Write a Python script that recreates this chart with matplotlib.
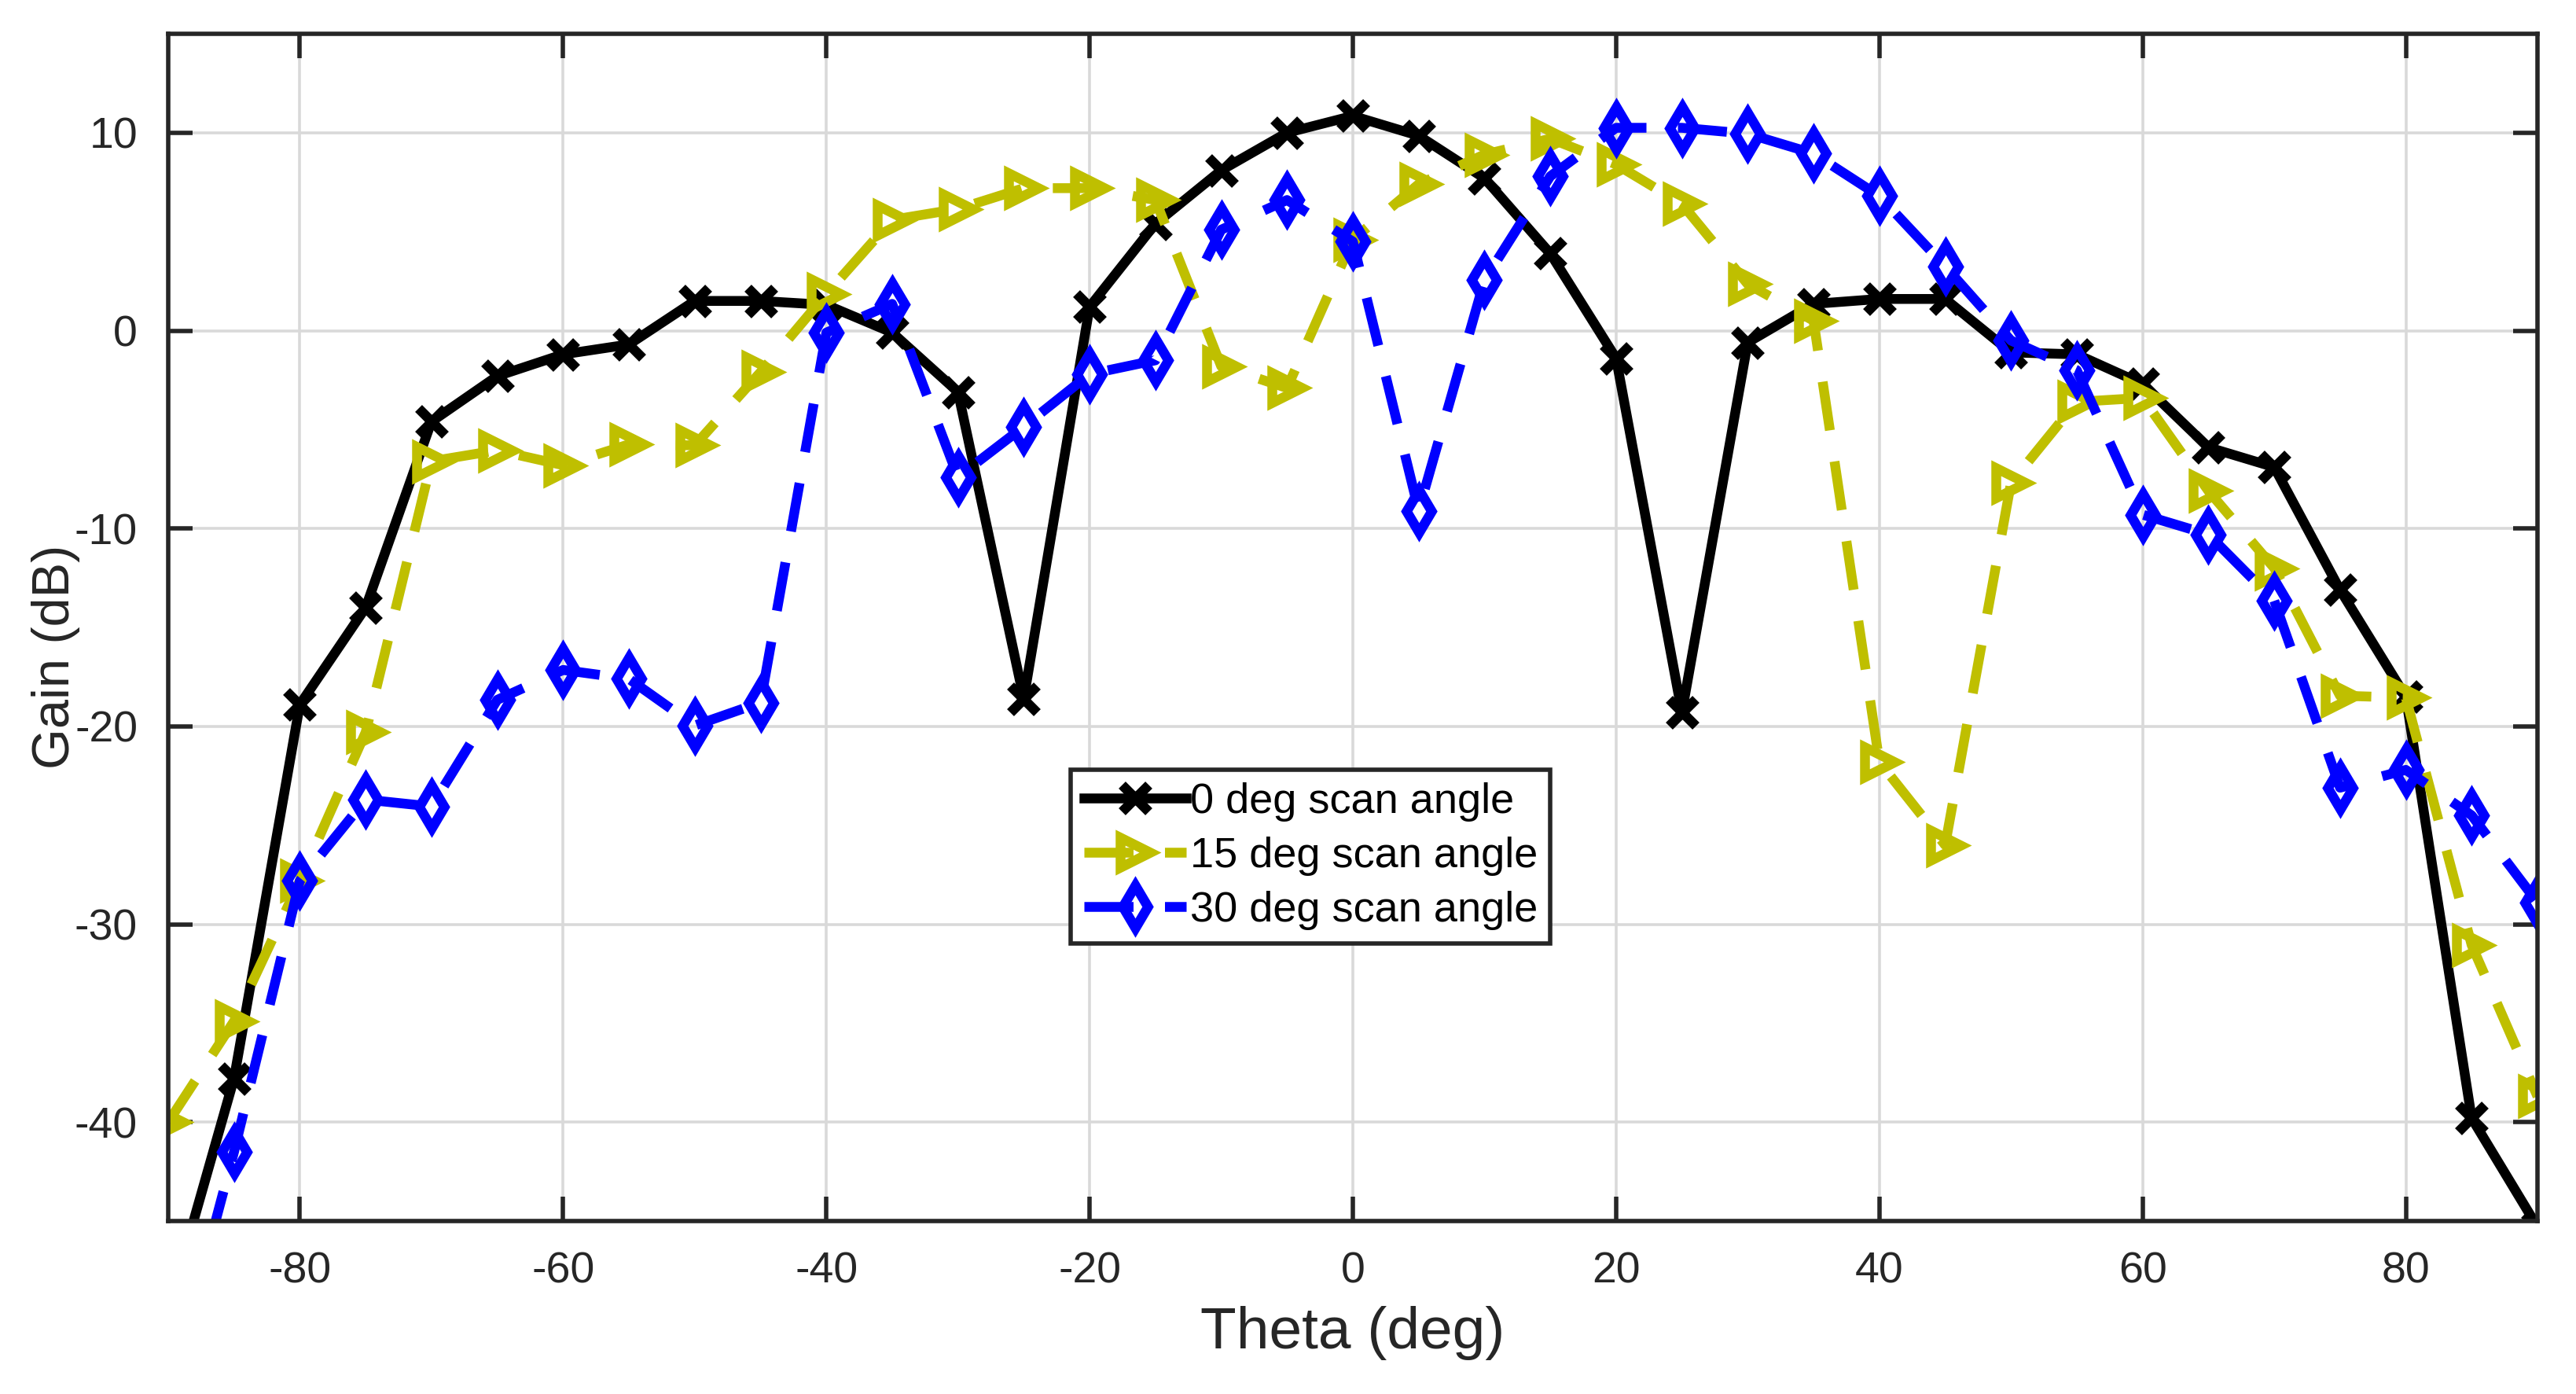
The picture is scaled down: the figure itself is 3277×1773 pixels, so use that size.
import numpy as np
import matplotlib.pyplot as plt

plt.rcParams['font.family'] = ['Liberation Sans', 'DejaVu Sans']
plt.rcParams['axes.unicode_minus'] = False

theta = list(range(-90, 91, 5))

gain_0 = [-49.5, -37.8, -18.9, -14.0, -4.6, -2.3, -1.2, -0.7, 1.5, 1.5,
          1.3, -0.1, -3.1, -18.6, 1.2, 5.4, 8.1, 10.0, 10.85, 9.85,
          7.7, 3.9, -1.4, -19.3, -0.6, 1.35, 1.6, 1.6, -1.1, -1.2,
          -2.7, -5.9, -6.9, -13.1, -18.5, -39.8, -45.3]

gain_15 = [-40.0, -34.9, -27.8, -20.3, -6.6, -6.05, -6.8, -5.75, -5.8, -2.1,
           1.85, 5.6, 6.15, 7.2, 7.2, 6.6, -1.8, -2.9, 4.6, 7.4,
           8.9, 9.7, 8.4, 6.4, 2.35, 0.5, -21.8, -26.0, -7.7, -3.6,
           -3.4, -8.1, -12.0, -18.45, -18.55, -31.05, -38.7]

gain_30 = [-54.0, -41.5, -27.8, -23.7, -24.05, -18.66, -17.15, -17.6, -19.96, -18.8,
           -0.1, 1.35, -7.4, -4.85, -2.2, -1.5, 5.1, 6.6, 4.5, -9.1,
           2.55, 7.8, 10.25, 10.25, 9.95, 8.95, 6.8, 3.25, -0.5, -2.0,
           -9.3, -10.3, -13.65, -23.1, -22.2, -24.5, -28.9]

labels = ["0 deg scan angle", "15 deg scan angle", "30 deg scan angle"]

fig = plt.figure(figsize=(3277/200, 1773/200), dpi=200)
ax = fig.add_axes([214/3277, 1-1553/1773, (3228-214)/3277, (1553-43)/1773])

lw = 4.5
ax.plot(theta, gain_0, color='k', linestyle='-', linewidth=lw,
        marker='x', markersize=12, markeredgewidth=4.5, label=labels[0])
ax.plot(theta, gain_15, color=(0.75, 0.75, 0), linestyle=(0, (5, 3.2)), linewidth=lw,
        marker='>', markersize=14, markeredgewidth=4.5, markerfacecolor='none', label=labels[1])
ax.plot(theta, gain_30, color=(0, 0, 1), linestyle=(0, (5, 3.2)), linewidth=lw,
        marker='d', markersize=14, markeredgewidth=4.5, markerfacecolor='none', label=labels[2])

ax.set_xlim(-90, 90)
ax.set_ylim(-45, 15)
ax.set_xticks(range(-80, 81, 20))
ax.set_yticks(range(-40, 11, 10))
ax.grid(True, color='#d9d9d9', linewidth=1.3)
ax.set_axisbelow(True)

for s in ax.spines.values():
    s.set_linewidth(2)
    s.set_color('#262626')
ax.tick_params(direction='in', length=11, width=2, color='#262626',
               top=True, right=True, labelsize=20, labelcolor='#262626', pad=14)

ax.set_xlabel("Theta (deg)", fontsize=27, color='#262626', labelpad=6)
ax.set_ylabel("Gain (dB)", fontsize=24, color='#262626')
ax.yaxis.set_label_coords(-0.037, 0.475)

leg = ax.legend(loc='upper left', bbox_to_anchor=(0.372, 0.398), fontsize=19.5,
                fancybox=False, framealpha=1, edgecolor='#262626',
                handlelength=2.4, handletextpad=0.1, borderpad=0.3, labelspacing=0.35)
leg.get_frame().set_linewidth(2)

fig.savefig("out.png", dpi=200)
